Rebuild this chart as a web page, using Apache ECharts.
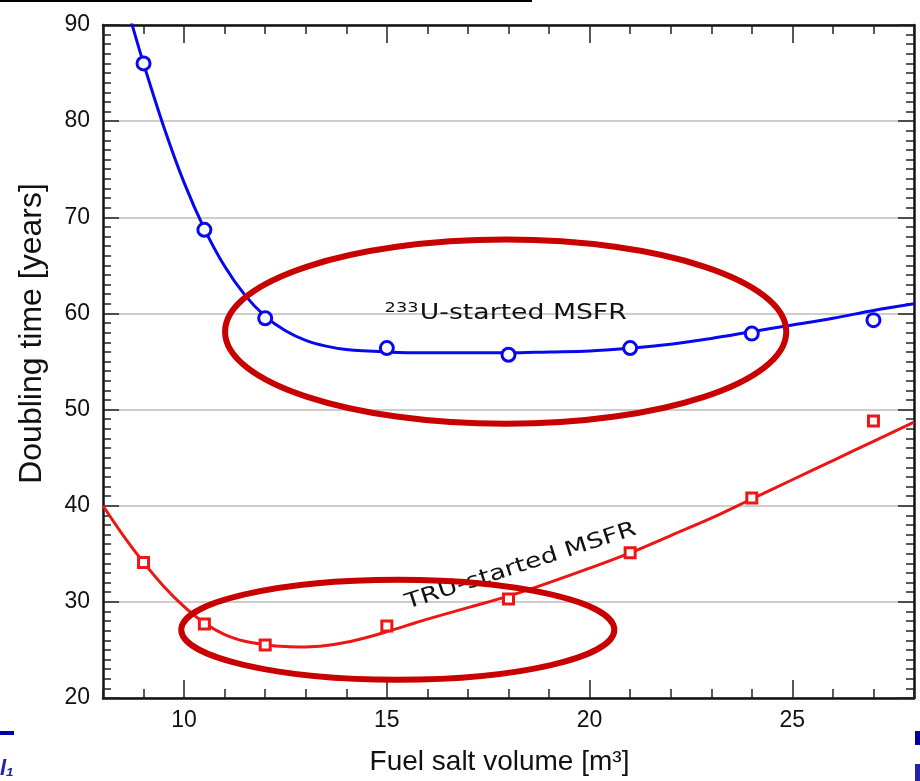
<!DOCTYPE html>
<html>
<head>
    <meta charset="utf-8">
    <script src="https://cdn.jsdelivr.net/npm/echarts@6/dist/echarts.min.js"></script>
</head>
<body style="margin:0;background:#fff;">
    <div id="main" style="width:920px;height:781px;"></div>
<script type="text/javascript">
// fuel salt volumes of the calculated cases [m3]
var volumes = [9, 10.5, 12, 15, 18, 21, 24, 27];
// doubling time of the 233U-started MSFR [years]
var u233Points = [86.0, 68.7, 59.5, 56.4, 55.7, 56.4, 57.9, 59.3];
// doubling time of the TRU-started MSFR [years]
var truPoints = [34.1, 27.7, 25.5, 27.5, 30.3, 35.1, 40.8, 48.8];

// fitted curves
var u233FitX = [8.6, 8.72, 9, 9.5, 10, 10.5, 11, 11.5, 12, 12.5, 13, 13.5, 14, 15, 16, 17, 18, 19, 20, 21, 22, 23, 24, 25, 26, 27, 28];
var u233FitY = [91.8, 90.0, 86.0, 79.4, 73.6, 68.8, 64.9, 61.9, 59.7, 58.2, 57.2, 56.6, 56.25, 56.0, 55.9, 55.9, 55.9, 56.0, 56.1, 56.4, 56.8, 57.4, 58.1, 58.8, 59.5, 60.3, 61.0];
var truFitX = [8, 8.5, 9, 9.5, 10, 10.5, 11, 11.5, 12, 12.5, 13, 13.5, 14, 14.5, 15, 15.5, 16, 17, 18, 19, 20, 21, 22, 23, 24, 25, 26, 27, 28];
var truFitY = [40.0, 36.9, 34.1, 31.6, 29.5, 27.8, 26.6, 25.9, 25.55, 25.35, 25.3, 25.45, 25.8, 26.3, 26.9, 27.55, 28.2, 29.4, 30.6, 32.0, 33.5, 35.1, 36.9, 38.7, 40.7, 42.7, 44.7, 46.7, 48.7];

// axis ticks
var xMajorTicks = [10, 15, 20, 25];

// hand-drawn annotations (data units): [cx, cy, rx, ry]
var annoEllipses = [[17.93, 58.1, 6.92, 9.58], [15.27, 27.1, 5.34, 5.2]];
// annotation labels: [x, y, angle in degrees]
var annoLabels = [[17.93, 59.95, 0], [18.3, 33.7, 18]];

var pair = function (xs, ys) {
    return xs.map(function (x, i) { return [x, ys[i]]; });
};

var font = 'Liberation Sans';
var blue = '#0808f0';
var red = '#ee1515';

var myChart = echarts.init(document.getElementById('main'));

var xMain = {
    type: 'value', min: 8, max: 28, gridIndex: 0,
    axisLine: { onZero: false, lineStyle: { color: '#111', width: 2.5 } },
    axisTick: { inside: true, length: 18, customValues: xMajorTicks, lineStyle: { color: '#222', width: 1.5 } },
    axisLabel: { customValues: xMajorTicks, margin: 11, color: '#111', fontSize: 23, fontFamily: font },
    splitLine: { show: false }
};
var xMinor = {
    type: 'value', min: 8, max: 28, interval: 1, gridIndex: 0,
    axisLine: { show: false },
    axisTick: { inside: true, length: 9, lineStyle: { color: '#222', width: 1.5 } },
    axisLabel: { show: false },
    splitLine: { show: false }
};
var yBase = {
    type: 'value', min: 20, max: 90, interval: 10,
    axisLine: { onZero: false, lineStyle: { color: '#111', width: 2.5 } },
    axisTick: { inside: true, length: 16, lineStyle: { color: '#222', width: 1.5 } },
    minorTick: { show: true, splitNumber: 10, length: 8, lineStyle: { color: '#222', width: 1.5 } }
};

var option = {
    backgroundColor: '#fff',
    animation: false,
    grid: { left: 103, right: 6, top: 25, bottom: 83 },
    xAxis: [
        Object.assign({}, xMain, {
            position: 'bottom',
            name: 'Fuel salt volume [m\u00b3]', nameLocation: 'middle', nameGap: 50,
            nameTextStyle: { fontSize: 28, color: '#111', fontFamily: font, padding: [0, 18, 0, 0] }
        }),
        Object.assign({}, xMinor, { position: 'bottom' }),
        Object.assign({}, xMain, { position: 'top', axisLabel: { show: false } }),
        Object.assign({}, xMinor, { position: 'top' })
    ],
    yAxis: [
        Object.assign({}, yBase, {
            position: 'left',
            name: 'Doubling time [years]', nameLocation: 'middle', nameGap: 55,
            nameTextStyle: { fontSize: 32, color: '#111', fontFamily: font, padding: [0, 0, 0, 56] },
            axisLabel: { margin: 13, color: '#111', fontSize: 23, fontFamily: font },
            splitLine: { show: true, lineStyle: { color: '#bdbdbd', width: 1.5 } }
        }),
        Object.assign({}, yBase, {
            position: 'right',
            axisLabel: { show: false },
            splitLine: { show: false }
        })
    ],
    graphic: [
        { type: 'line', shape: { x1: 0, y1: 1, x2: 532, y2: 1 }, style: { stroke: '#000', lineWidth: 2 } },
        { type: 'rect', shape: { x: 0, y: 731, width: 14, height: 4 }, style: { fill: '#0000a8' } },
        { type: 'text', left: 0, top: 758, style: { text: 'l\u2081', fill: '#2222b0', font: 'italic bold 22px Liberation Sans' } },
        { type: 'rect', shape: { x: 915, y: 731, width: 5, height: 14 }, style: { fill: '#0000a8' } },
        { type: 'rect', shape: { x: 915, y: 764, width: 5, height: 17 }, style: { fill: '#2222b0' } }
    ],
    series: [
        {
            name: 'U233 fit', type: 'line', smooth: 0.35, showSymbol: false, clip: true,
            lineStyle: { color: blue, width: 3 },
            data: pair(u233FitX, u233FitY), z: 3
        },
        {
            name: 'TRU fit', type: 'line', smooth: 0.35, showSymbol: false, clip: true,
            lineStyle: { color: red, width: 3 },
            data: pair(truFitX, truFitY), z: 3
        },
        {
            name: '233U-started MSFR', type: 'scatter', symbol: 'circle', symbolSize: 13,
            itemStyle: { color: '#fff', borderColor: blue, borderWidth: 3, opacity: 1 },
            data: pair(volumes, u233Points), z: 4
        },
        {
            name: 'TRU-started MSFR', type: 'scatter', symbol: 'rect', symbolSize: 10,
            itemStyle: { color: '#fff', borderColor: red, borderWidth: 3, opacity: 1 },
            data: pair(volumes, truPoints), z: 4
        },
        {
            name: 'labels', type: 'custom', z: 5,
            renderItem: function (params, api) {
                var c = api.coord([api.value(0), api.value(1)]);
                var isU = params.dataIndex === 0;
                return {
                    type: 'text',
                    x: c[0], y: c[1],
                    rotation: api.value(2) * Math.PI / 180,
                    scaleX: 1.27,
                    style: isU ? {
                        text: '{sup|233}{base|U-started MSFR}',
                        rich: {
                            sup: { fontSize: 14, fontFamily: 'DejaVu Sans', fill: '#111', padding: [0, 1, 11, 0] },
                            base: { fontSize: 21, fontFamily: 'DejaVu Sans', fill: '#111' }
                        },
                        align: 'center', verticalAlign: 'middle'
                    } : {
                        text: 'TRU-started MSFR',
                        font: '21px DejaVu Sans', fill: '#111',
                        align: 'center', verticalAlign: 'middle'
                    }
                };
            },
            data: annoLabels
        },
        {
            name: 'ellipses', type: 'custom', z: 6,
            renderItem: function (params, api) {
                var c = api.coord([api.value(0), api.value(1)]);
                var s = api.size([api.value(2), api.value(3)]);
                return {
                    type: 'ellipse',
                    shape: { cx: c[0], cy: c[1], rx: s[0], ry: s[1] },
                    style: { fill: 'none', stroke: '#c80000', lineWidth: 6 }
                };
            },
            data: annoEllipses
        }
    ]
};

myChart.setOption(option);
</script>
</body>
</html>
